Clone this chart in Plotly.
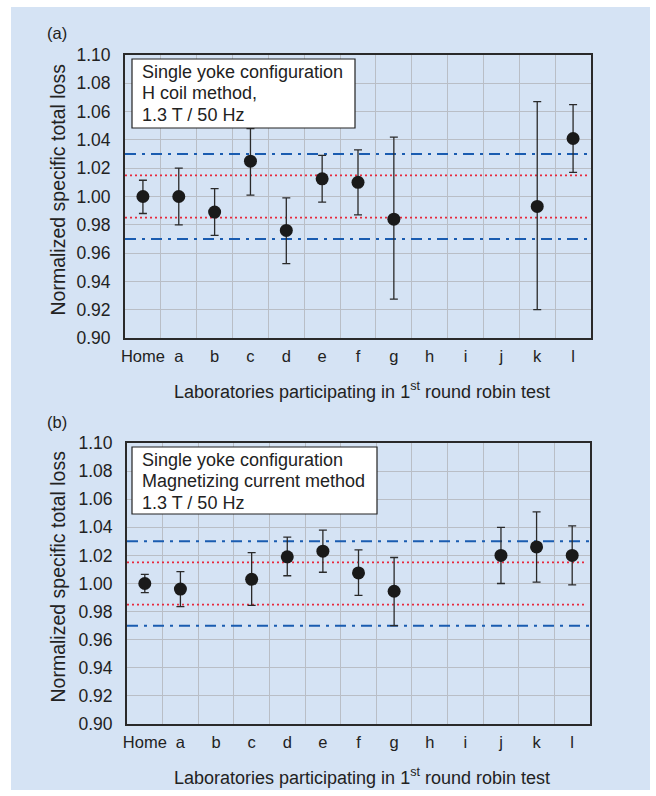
import plotly.graph_objects as go

W, H = 656, 796

labs = ["Home", "a", "b", "c", "d", "e", "f", "g", "h", "i", "j", "k", "l"]

# Panel (a): H coil method
a_labs = ["Home", "a", "b", "c", "d", "e", "f", "g", "k", "l"]
a_val = [1.000, 1.000, 0.989, 1.025, 0.976, 1.0125, 1.010, 0.984, 0.993, 1.041]
a_hi = [1.0115, 1.020, 1.0055, 1.048, 0.999, 1.029, 1.033, 1.042, 1.067, 1.065]
a_lo = [0.988, 0.980, 0.9725, 1.001, 0.9525, 0.996, 0.987, 0.9275, 0.920, 1.017]

# Panel (b): Magnetizing current method
b_labs = ["Home", "a", "c", "d", "e", "f", "g", "j", "k", "l"]
b_val = [1.000, 0.996, 1.003, 1.019, 1.023, 1.0075, 0.9945, 1.020, 1.026, 1.020]
b_hi = [1.0065, 1.0085, 1.022, 1.033, 1.038, 1.024, 1.0185, 1.040, 1.051, 1.041]
b_lo = [0.9935, 0.9835, 0.9845, 1.0055, 1.008, 0.9915, 0.970, 1.000, 1.001, 0.999]

blue_lines = [1.03, 0.97]
red_lines = [1.015, 0.985]

y_ticks = [0.90, 0.92, 0.94, 0.96, 0.98, 1.00, 1.02, 1.04, 1.06, 1.08, 1.10]

FONT = "Liberation Sans, Arial, sans-serif"
TXT = "#222222"
BG = "#D5E3F4"

fig = go.Figure()

def px(x):
    return x / W

def py(y):
    return 1 - y / H

panels = [
    dict(labs=a_labs, val=a_val, hi=a_hi, lo=a_lo, xa="x", ya="y",
         box=(132, 59, 355, 128),
         text=["Single yoke configuration", "H coil method,", "1.3 T / 50 Hz"],
         dom_x=(125, 591), dom_y=(55, 338), tag="(a)", tagy=33, titley=391),
    dict(labs=b_labs, val=b_val, hi=b_hi, lo=b_lo, xa="x2", ya="y2",
         box=(132, 447, 377, 514),
         text=["Single yoke configuration", "Magnetizing current method", "1.3 T / 50 Hz"],
         dom_x=(127, 590), dom_y=(443, 724), tag="(b)", tagy=422, titley=776),
]

shapes = [dict(type="rect", xref="paper", yref="paper", x0=px(11), x1=px(650),
               y0=py(790), y1=py(7), fillcolor=BG, line=dict(width=0), layer="below")]
annotations = []

for i, p in enumerate(panels):
    xs = [labs.index(l) for l in p["labs"]]
    for yv in blue_lines:
        fig.add_trace(go.Scatter(x=[-0.5, 12.5], y=[yv, yv], mode="lines",
                                 line=dict(color="#1A5CB0", width=2, dash="11px,6px,3px,6px"),
                                 xaxis=p["xa"], yaxis=p["ya"], showlegend=False, hoverinfo="skip"))
    for yv in red_lines:
        fig.add_trace(go.Scatter(x=[-0.5, 12.4], y=[yv, yv], mode="lines",
                                 line=dict(color="#E8283C", width=1.7, dash="2px,3px"),
                                 xaxis=p["xa"], yaxis=p["ya"], showlegend=False, hoverinfo="skip"))
    fig.add_trace(go.Scatter(
        x=xs, y=p["val"], mode="markers",
        marker=dict(color="#1A1A1A", size=13),
        error_y=dict(type="data", symmetric=False,
                     array=[h - v for h, v in zip(p["hi"], p["val"])],
                     arrayminus=[v - l for l, v in zip(p["lo"], p["val"])],
                     color="#2A2A2A", thickness=1.3, width=4),
        xaxis=p["xa"], yaxis=p["ya"], showlegend=False))

    x0, y0, x1, y1 = p["box"]
    shapes.append(dict(type="rect", xref="paper", yref="paper", x0=px(x0), x1=px(x1),
                       y0=py(y1), y1=py(y0), fillcolor="white",
                       line=dict(color="#222222", width=1.2)))
    for k, t in enumerate(p["text"]):
        annotations.append(dict(xref="paper", yref="paper", x=px(x0 + 8), y=py(y0 + 13 + 21.3 * k),
                                text=t, showarrow=False, xanchor="left", yanchor="middle",
                                font=dict(family=FONT, size=18, color=TXT)))
    annotations.append(dict(xref="paper", yref="paper", x=px(57), y=py(p["tagy"]),
                            text=p["tag"], showarrow=False, xanchor="center", yanchor="middle",
                            font=dict(family=FONT, size=16.5, color=TXT)))
    annotations.append(dict(xref="paper", yref="paper", x=px(362), y=py(p["titley"]),
                            text="Laboratories participating in 1<sup>st</sup> round robin test",
                            showarrow=False, xanchor="center", yanchor="middle",
                            font=dict(family=FONT, size=18, color=TXT)))
    annotations.append(dict(xref="paper", yref="paper", x=px(57),
                            y=py((p["dom_y"][0] + p["dom_y"][1]) / 2 - 7),
                            text="Normalized specific total loss", textangle=-90,
                            showarrow=False, xanchor="center", yanchor="middle",
                            font=dict(family=FONT, size=19.5, color=TXT)))

    axx = dict(domain=[px(p["dom_x"][0]), px(p["dom_x"][1])], range=[-0.5, 12.5],
               tickmode="array", tickvals=list(range(13)), ticktext=labs,
               showgrid=False, zeroline=False, ticks="outside", ticklen=2,
               tickcolor="rgba(0,0,0,0)", automargin=False,
               tickfont=dict(family=FONT, size=16.5, color=TXT),
               showline=True, mirror=True, linecolor="#2A2A2A", linewidth=2,
               minor=dict(tickmode="array", tickvals=[k + 0.5 for k in range(12)],
                          showgrid=True, gridcolor="#B9BEC6", gridwidth=1, ticks=""),
               anchor=p["ya"], fixedrange=True)
    axy = dict(domain=[py(p["dom_y"][1]), py(p["dom_y"][0])], range=[0.90, 1.10],
               tickmode="array", tickvals=y_ticks, ticktext=[f"{v:.2f}" for v in y_ticks],
               showgrid=True, gridcolor="#B9BEC6", gridwidth=1, zeroline=False,
               ticks="outside", ticklen=9, tickcolor="rgba(0,0,0,0)", automargin=False,
               tickfont=dict(family=FONT, size=17.5, color=TXT),
               showline=True, mirror=True, linecolor="#2A2A2A", linewidth=2,
               anchor=p["xa"], fixedrange=True)
    suffix = "" if i == 0 else "2"
    fig.layout["xaxis" + suffix] = axx
    fig.layout["yaxis" + suffix] = axy

fig.update_layout(width=W, height=H, margin=dict(l=0, r=0, t=0, b=0, autoexpand=False),
                  paper_bgcolor="white", plot_bgcolor="white",
                  shapes=shapes, annotations=annotations, showlegend=False,
                  font=dict(family=FONT, color=TXT))

fig.write_html("out.html", config={"displayModeBar": False},
               post_script="document.body.style.margin='0';")
